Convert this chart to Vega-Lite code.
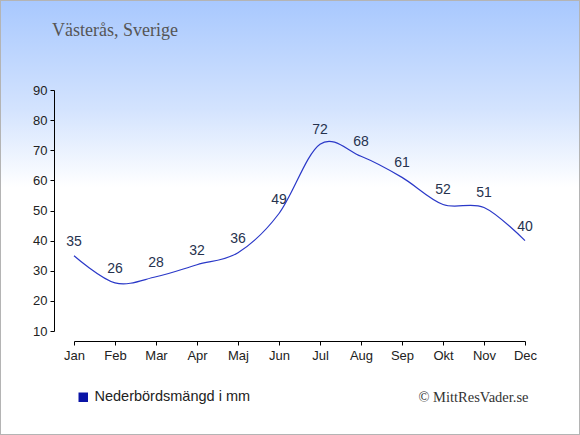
{
  "$schema": "https://vega.github.io/schema/vega-lite/v6.json",
  "width": 580,
  "height": 435,
  "autosize": "none",
  "padding": 0,
  "background": "#ffffff",
  "title": {
    "text": "Västerås, Sverige",
    "anchor": "start",
    "frame": "group",
    "offset": 0,
    "dx": 52,
    "dy": 55,
    "baseline": "alphabetic",
    "font": "Liberation Serif",
    "fontSize": 18,
    "fontWeight": "normal",
    "color": "#555555"
  },
  "data": {
    "values": [
      {"month": "Jan", "mm": 35},
      {"month": "Feb", "mm": 26},
      {"month": "Mar", "mm": 28},
      {"month": "Apr", "mm": 32},
      {"month": "Maj", "mm": 36},
      {"month": "Jun", "mm": 49},
      {"month": "Jul", "mm": 72},
      {"month": "Aug", "mm": 68},
      {"month": "Sep", "mm": 61},
      {"month": "Okt", "mm": 52},
      {"month": "Nov", "mm": 51},
      {"month": "Dec", "mm": 40}
    ]
  },
  "layer": [
    {
      "data": {"values": [{}]},
      "mark": {
        "type": "rect",
        "stroke": "#b4b4b4",
        "strokeWidth": 2,
        "fill": {
          "gradient": "linear",
          "x1": 0, "y1": 0, "x2": 0, "y2": 1,
          "stops": [
            {"offset": 0, "color": "#a8c8fe"},
            {"offset": 0.25, "color": "#d3e3fe"},
            {"offset": 0.43, "color": "#ffffff"},
            {"offset": 1, "color": "#ffffff"}
          ]
        }
      },
      "encoding": {}
    },
    {
      "mark": {"type": "line", "interpolate": "cardinal", "strokeWidth": 1.2},
      "encoding": {
        "x": {
          "field": "month",
          "type": "ordinal",
          "sort": null,
          "scale": {
            "type": "point",
            "domain": ["Jan", "Feb", "Mar", "Apr", "Maj", "Jun", "Jul", "Aug", "Sep", "Okt", "Nov", "Dec"],
            "range": [74, 525],
            "padding": 0
          },
          "axis": {
            "orient": "bottom",
            "offset": -94,
            "zindex": 1,
            "labelAngle": 0,
            "tickSize": 4,
            "labelPadding": 4,
            "title": "© MittResVader.se",
            "titleX": 528,
            "titleY": 56,
            "titleAlign": "right",
            "titleBaseline": "middle",
            "titleFont": "Liberation Serif",
            "titleFontSize": 14.5,
            "titleFontWeight": "normal",
            "titleColor": "#333333"
          }
        },
        "y": {
          "field": "mm",
          "type": "quantitative",
          "scale": {"domain": [10, 90], "range": [331, 90], "nice": false, "zero": false},
          "axis": {
            "orient": "left",
            "offset": -54,
            "zindex": 1,
            "values": [10, 20, 30, 40, 50, 60, 70, 80, 90],
            "tickSize": 4,
            "labelPadding": 3,
            "grid": false,
            "title": null
          }
        },
        "color": {
          "datum": "Nederbördsmängd i mm",
          "scale": {"range": ["#2a38c8"]},
          "legend": {
            "orient": "none",
            "legendX": 76,
            "legendY": 390,
            "title": null,
            "padding": 0,
            "symbolType": "square",
            "symbolSize": 90,
            "labelFontSize": 14.5,
            "labelColor": "#222222",
            "labelOffset": 4,
            "encode": {
              "symbols": {
                "update": {
                  "fill": {"value": "#0a14a6"},
                  "stroke": {"value": "#0a14a6"},
                  "strokeWidth": {"value": 0},
                  "shape": {"value": "square"}
                }
              }
            }
          }
        }
      }
    },
    {
      "mark": {"type": "text", "dy": -14, "fontSize": 14, "color": "#26324e"},
      "encoding": {
        "x": {"field": "month", "type": "ordinal", "sort": null},
        "y": {"field": "mm", "type": "quantitative"},
        "text": {"field": "mm", "type": "quantitative"}
      }
    }
  ],
  "config": {
    "font": "Liberation Sans",
    "view": {"stroke": null},
    "axis": {
      "domainColor": "#000000",
      "tickColor": "#000000",
      "labelColor": "#222222",
      "labelFontSize": 13,
      "labelFont": "Liberation Sans"
    }
  }
}
